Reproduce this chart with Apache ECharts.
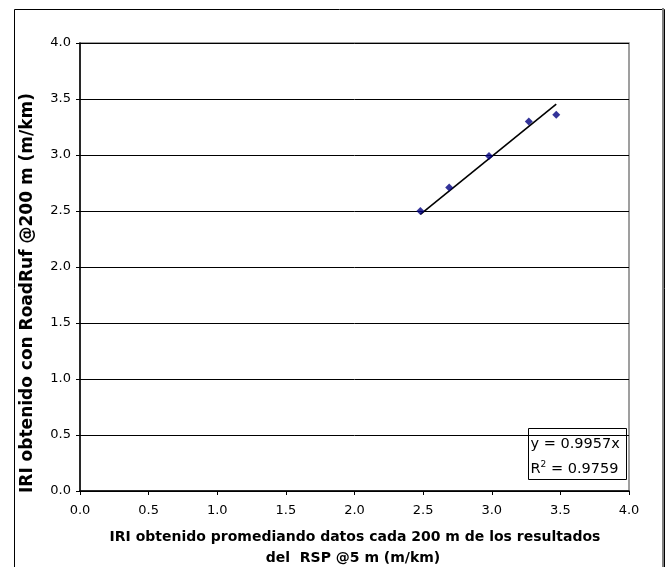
<!DOCTYPE html>
<html>
<head>
<meta charset="utf-8">
<script src="https://cdn.jsdelivr.net/npm/echarts@6/dist/echarts.min.js"></script>
<style>html,body{margin:0;padding:0;background:#fff}#c{width:665px;height:567px}</style>
</head>
<body>
<div id="c"></div>
<script>
const xValues = [2.48, 2.69, 2.98, 3.27, 3.47];
const yValues = [2.50, 2.71, 2.99, 3.30, 3.36];
const slope = 0.9957;
const r2 = 0.9759;
const xTitleLine1 = 'IRI obtenido promediando datos cada 200 m de los resultados';
const xTitleLine2 = 'del  RSP @5 m (m/km)';
const yTitle = 'IRI obtenido con RoadRuf @200 m (m/km)';

const points = xValues.map((x, i) => [x, yValues[i]]);
const xMin = Math.min(...xValues), xMax = Math.max(...xValues);
const trend = [[xMin, slope * xMin], [xMax, slope * xMax]];

const FONT = 'DejaVu Sans';
const chart = echarts.init(document.getElementById('c'), null, {renderer: 'canvas'});
const axisCommon = {
  min: 0, max: 4, interval: 0.5,
  axisLine: {show: true, onZero: false, lineStyle: {color: '#000', width: 1.5}},
  axisTick: {show: true, length: 4, lineStyle: {color: '#000'}},
  axisLabel: {color: '#000', fontFamily: FONT, fontSize: 13, formatter: v => v.toFixed(1)}
};
chart.setOption({
  animation: false,
  backgroundColor: '#fff',
  grid: {left: 80, top: 43, width: 549, height: 448, show: true, borderColor: '#808080', borderWidth: 1.5, backgroundColor: '#fff'},
  xAxis: Object.assign({}, axisCommon, {
    type: 'value',
    axisLabel: Object.assign({}, axisCommon.axisLabel, {margin: 13}),
    splitLine: {show: false}
  }),
  yAxis: Object.assign({}, axisCommon, {
    type: 'value',
    axisLabel: Object.assign({}, axisCommon.axisLabel, {margin: 9}),
    splitLine: {show: true, lineStyle: {color: '#000', width: 1}}
  }),
  series: [
    {type: 'line', data: trend, showSymbol: false, symbol: 'none', lineStyle: {color: '#000', width: 1.6}, z: 2},
    {type: 'scatter', data: points, symbol: 'diamond', symbolSize: 8, itemStyle: {color: '#000080'}, z: 3}
  ],
  graphic: [
    {type: 'rect', left: 12, top: 7, shape: {width: 650, height: 580}, style: {fill: 'none', stroke: '#000', lineWidth: 1}, z: 10},
    {type: 'line', shape: {x1: 663, y1: 8, x2: 663, y2: 567}, style: {stroke: '#808080', lineWidth: 2}, z: 10},
    {type: 'text', x: 355, y: 537, z: 10, style: {text: xTitleLine1, font: 'bold 14px "DejaVu Sans"', fill: '#000', textAlign: 'center', textVerticalAlign: 'middle'}},
    {type: 'text', x: 353, y: 558, z: 10, style: {text: xTitleLine2, font: 'bold 14px "DejaVu Sans"', fill: '#000', textAlign: 'center', textVerticalAlign: 'middle'}},
    {type: 'text', x: 28, y: 293, rotation: Math.PI / 2, z: 10, style: {text: yTitle, font: 'bold 17px "DejaVu Sans"', fill: '#000', textAlign: 'center', textVerticalAlign: 'middle'}},
    {type: 'group', left: 528, top: 428, z: 20, children: [
      {type: 'rect', shape: {x: 0, y: 0, width: 98, height: 51}, style: {fill: '#fff', stroke: '#000', lineWidth: 1}},
      {type: 'text', x: 2, y: 16, style: {text: 'y = ' + slope.toFixed(4) + 'x', font: '14.5px "DejaVu Sans"', fill: '#000', textVerticalAlign: 'middle'}},
      {type: 'text', x: 2, y: 40, style: {text: '{a|R}{s|2}{a| = ' + r2.toFixed(4) + '}', textVerticalAlign: 'middle', rich: {a: {fontFamily: FONT, fontSize: 14.5, fill: '#000', verticalAlign: 'bottom'}, s: {fontFamily: FONT, fontSize: 9, fill: '#000', verticalAlign: 'top', padding: [0, 0, 7, 0]}}}}
    ]}
  ]
});
</script>
</body>
</html>
